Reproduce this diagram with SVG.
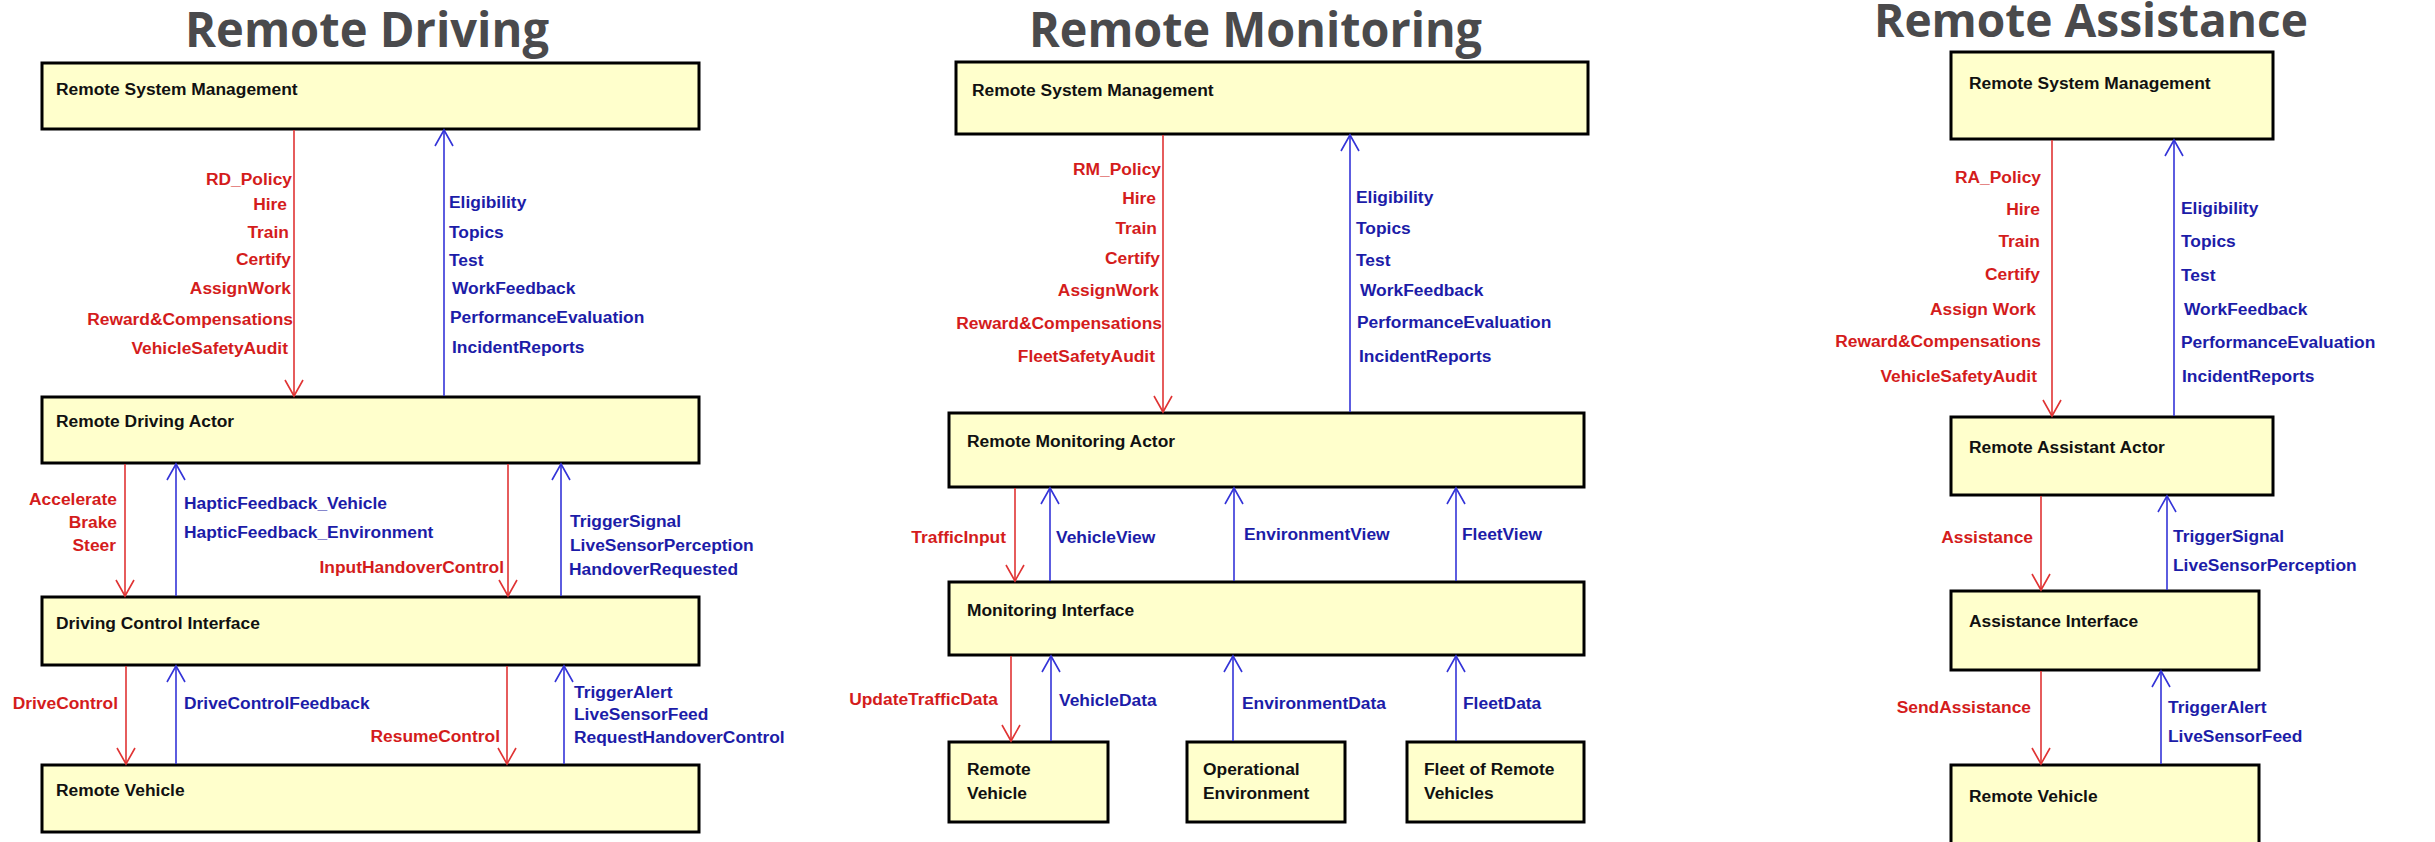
<svg xmlns="http://www.w3.org/2000/svg" width="2435" height="842" viewBox="0 0 2435 842">
<style>
.bg{fill:#ffffff}
.title{font-family:"Open Sans","Liberation Sans",sans-serif;font-weight:bold;font-size:48px;fill:#4a4a4c}
.box{fill:#ffffcc;stroke:#000;stroke-width:3}
.bt{font-family:"Liberation Sans",Arial,sans-serif;font-weight:bold;font-size:17.4px;fill:#111}
.r{font-family:"Liberation Sans",Arial,sans-serif;font-weight:bold;font-size:17.4px;fill:#d41c1c;text-anchor:end}
.b{font-family:"Liberation Sans",Arial,sans-serif;font-weight:bold;font-size:17.4px;fill:#1c1ca8}
.lr{stroke:#e03434;stroke-width:1.6;fill:none;marker-end:url(#ar)}
.lb{stroke:#3434d8;stroke-width:1.6;fill:none;marker-end:url(#ab)}
</style>
<defs>
<marker id="ar" markerUnits="userSpaceOnUse" viewBox="-18 -10 20 20" refX="0" refY="0" markerWidth="20" markerHeight="20" orient="auto" overflow="visible"><path d="M-16,-9 L0,0 L-16,9" fill="none" stroke="#e03434" stroke-width="1.6"/></marker>
<marker id="ab" markerUnits="userSpaceOnUse" viewBox="-18 -10 20 20" refX="0" refY="0" markerWidth="20" markerHeight="20" orient="auto" overflow="visible"><path d="M-16,-9 L0,0 L-16,9" fill="none" stroke="#3434d8" stroke-width="1.6"/></marker>
</defs>
<rect class="bg" x="0" y="0" width="2435" height="842"/>

<g id="titles">
<text class="title" x="185" y="47" textLength="364" lengthAdjust="spacingAndGlyphs">Remote Driving</text>
<text class="title" x="1029" y="47" textLength="453" lengthAdjust="spacingAndGlyphs">Remote Monitoring</text>
<text class="title" x="1874" y="37" style="font-size:46px" textLength="434" lengthAdjust="spacingAndGlyphs">Remote Assistance</text>
</g>

<!-- Remote Driving nodes -->
<g id="rd-rsm"><rect class="box" x="42" y="63" width="657" height="66"/><text class="bt" x="56" y="95">Remote System Management</text></g>
<g id="rd-actor"><rect class="box" x="42" y="397" width="657" height="66"/><text class="bt" x="56" y="427">Remote Driving Actor</text></g>
<g id="rd-dci"><rect class="box" x="42" y="597" width="657" height="68"/><text class="bt" x="56" y="629">Driving Control Interface</text></g>
<g id="rd-rv"><rect class="box" x="42" y="765" width="657" height="67"/><text class="bt" x="56" y="796">Remote Vehicle</text></g>

<!-- Remote Monitoring nodes -->
<g id="rm-rsm"><rect class="box" x="956" y="62" width="632" height="72"/><text class="bt" x="972" y="96">Remote System Management</text></g>
<g id="rm-actor"><rect class="box" x="949" y="413" width="635" height="74"/><text class="bt" x="967" y="447">Remote Monitoring Actor</text></g>
<g id="rm-mi"><rect class="box" x="949" y="582" width="635" height="73"/><text class="bt" x="967" y="616">Monitoring Interface</text></g>
<g id="rm-rv"><rect class="box" x="949" y="742" width="159" height="80"/><text class="bt" x="967" y="775">Remote</text><text class="bt" x="967" y="799">Vehicle</text></g>
<g id="rm-oe"><rect class="box" x="1187" y="742" width="158" height="80"/><text class="bt" x="1203" y="775">Operational</text><text class="bt" x="1203" y="799">Environment</text></g>
<g id="rm-fleet"><rect class="box" x="1407" y="742" width="177" height="80"/><text class="bt" x="1424" y="775">Fleet of Remote</text><text class="bt" x="1424" y="799">Vehicles</text></g>

<!-- Remote Assistance nodes -->
<g id="ra-rsm"><rect class="box" x="1951" y="52" width="322" height="87"/><text class="bt" x="1969" y="89">Remote System Management</text></g>
<g id="ra-actor"><rect class="box" x="1951" y="417" width="322" height="78"/><text class="bt" x="1969" y="453">Remote Assistant Actor</text></g>
<g id="ra-ai"><rect class="box" x="1951" y="591" width="308" height="79"/><text class="bt" x="1969" y="627">Assistance Interface</text></g>
<g id="ra-rv"><rect class="box" x="1951" y="765" width="308" height="95"/><text class="bt" x="1969" y="802">Remote Vehicle</text></g>

<g id="connectors">
<!-- RD -->
<line class="lr" x1="294" y1="130" x2="294" y2="396"/>
<line class="lb" x1="444" y1="396" x2="444" y2="130"/>
<line class="lr" x1="125" y1="464" x2="125" y2="596"/>
<line class="lb" x1="176" y1="596" x2="176" y2="464"/>
<line class="lr" x1="508" y1="464" x2="508" y2="596"/>
<line class="lb" x1="561" y1="596" x2="561" y2="464"/>
<line class="lr" x1="126" y1="666" x2="126" y2="764"/>
<line class="lb" x1="176" y1="764" x2="176" y2="666"/>
<line class="lr" x1="507" y1="666" x2="507" y2="764"/>
<line class="lb" x1="564" y1="764" x2="564" y2="666"/>
<!-- RM -->
<line class="lr" x1="1163" y1="135" x2="1163" y2="412"/>
<line class="lb" x1="1350" y1="412" x2="1350" y2="135"/>
<line class="lr" x1="1015" y1="488" x2="1015" y2="581"/>
<line class="lb" x1="1050" y1="581" x2="1050" y2="488"/>
<line class="lb" x1="1234" y1="581" x2="1234" y2="488"/>
<line class="lb" x1="1456" y1="581" x2="1456" y2="488"/>
<line class="lr" x1="1011" y1="656" x2="1011" y2="741"/>
<line class="lb" x1="1051" y1="741" x2="1051" y2="656"/>
<line class="lb" x1="1233" y1="741" x2="1233" y2="656"/>
<line class="lb" x1="1456" y1="741" x2="1456" y2="656"/>
<!-- RA -->
<line class="lr" x1="2052" y1="140" x2="2052" y2="416"/>
<line class="lb" x1="2174" y1="416" x2="2174" y2="140"/>
<line class="lr" x1="2041" y1="496" x2="2041" y2="590"/>
<line class="lb" x1="2167" y1="590" x2="2167" y2="496"/>
<line class="lr" x1="2041" y1="671" x2="2041" y2="764"/>
<line class="lb" x1="2161" y1="764" x2="2161" y2="671"/>

<!-- RD labels -->
<text class="r" x="292" y="185">RD_Policy</text>
<text class="r" x="287" y="210">Hire</text>
<text class="r" x="289" y="238">Train</text>
<text class="r" x="291" y="265">Certify</text>
<text class="r" x="291" y="294">AssignWork</text>
<text class="r" x="293" y="325">Reward&amp;Compensations</text>
<text class="r" x="288" y="354">VehicleSafetyAudit</text>
<text class="b" x="449" y="208">Eligibility</text>
<text class="b" x="449" y="238">Topics</text>
<text class="b" x="449" y="266">Test</text>
<text class="b" x="452" y="294">WorkFeedback</text>
<text class="b" x="450" y="323">PerformanceEvaluation</text>
<text class="b" x="452" y="353">IncidentReports</text>
<text class="r" x="117" y="505">Accelerate</text>
<text class="r" x="117" y="528">Brake</text>
<text class="r" x="116" y="551">Steer</text>
<text class="b" x="184" y="509">HapticFeedback_Vehicle</text>
<text class="b" x="184" y="538">HapticFeedback_Environment</text>
<text class="r" x="504" y="573">InputHandoverControl</text>
<text class="b" x="570" y="527">TriggerSignal</text>
<text class="b" x="570" y="551">LiveSensorPerception</text>
<text class="b" x="569" y="575">HandoverRequested</text>
<text class="r" x="118" y="709">DriveControl</text>
<text class="b" x="184" y="709">DriveControlFeedback</text>
<text class="r" x="500" y="742">ResumeControl</text>
<text class="b" x="574" y="698">TriggerAlert</text>
<text class="b" x="574" y="720">LiveSensorFeed</text>
<text class="b" x="574" y="743">RequestHandoverControl</text>

<!-- RM labels -->
<text class="r" x="1161" y="175">RM_Policy</text>
<text class="r" x="1156" y="204">Hire</text>
<text class="r" x="1157" y="234">Train</text>
<text class="r" x="1160" y="264">Certify</text>
<text class="r" x="1159" y="296">AssignWork</text>
<text class="r" x="1162" y="329">Reward&amp;Compensations</text>
<text class="r" x="1155" y="362">FleetSafetyAudit</text>
<text class="b" x="1356" y="203">Eligibility</text>
<text class="b" x="1356" y="234">Topics</text>
<text class="b" x="1356" y="266">Test</text>
<text class="b" x="1360" y="296">WorkFeedback</text>
<text class="b" x="1357" y="328">PerformanceEvaluation</text>
<text class="b" x="1359" y="362">IncidentReports</text>
<text class="r" x="1006" y="543">TrafficInput</text>
<text class="b" x="1056" y="543">VehicleView</text>
<text class="b" x="1244" y="540">EnvironmentView</text>
<text class="b" x="1462" y="540">FleetView</text>
<text class="r" x="998" y="705">UpdateTrafficData</text>
<text class="b" x="1059" y="706">VehicleData</text>
<text class="b" x="1242" y="709">EnvironmentData</text>
<text class="b" x="1463" y="709">FleetData</text>

<!-- RA labels -->
<text class="r" x="2041" y="183">RA_Policy</text>
<text class="r" x="2040" y="215">Hire</text>
<text class="r" x="2040" y="247">Train</text>
<text class="r" x="2040" y="280">Certify</text>
<text class="r" x="2036" y="315">Assign Work</text>
<text class="r" x="2041" y="347">Reward&amp;Compensations</text>
<text class="r" x="2037" y="382">VehicleSafetyAudit</text>
<text class="b" x="2181" y="214">Eligibility</text>
<text class="b" x="2181" y="247">Topics</text>
<text class="b" x="2181" y="281">Test</text>
<text class="b" x="2184" y="315">WorkFeedback</text>
<text class="b" x="2181" y="348">PerformanceEvaluation</text>
<text class="b" x="2182" y="382">IncidentReports</text>
<text class="r" x="2033" y="543">Assistance</text>
<text class="b" x="2173" y="542">TriggerSignal</text>
<text class="b" x="2173" y="571">LiveSensorPerception</text>
<text class="r" x="2031" y="713">SendAssistance</text>
<text class="b" x="2168" y="713">TriggerAlert</text>
<text class="b" x="2168" y="742">LiveSensorFeed</text>
</g>
</svg>
